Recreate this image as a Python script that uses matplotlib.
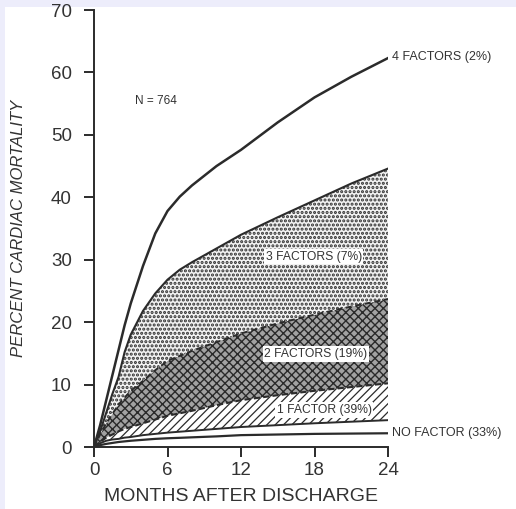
import matplotlib.pyplot as plt
from matplotlib.patches import Rectangle

# months after discharge and cumulative cardiac mortality (%)
months = [0, 0.5, 1, 1.5, 2, 2.5, 3, 4, 5, 6, 7, 8, 10, 12, 15, 18, 21, 24]
four_fac = [0, 3.5, 7.5, 11.5, 15.5, 19.5, 23, 29, 34.2, 37.8, 40.1, 41.9, 45, 47.6, 52, 56, 59.3, 62.3]
three_fac = [0, 2.5, 5.5, 8.5, 11.2, 15.2, 18, 21.8, 24.6, 26.8, 28.4, 29.6, 31.8, 34, 36.8, 39.5, 42.2, 44.6]
two_fac = [0, 2, 3.8, 5.3, 6.8, 7.9, 9, 10.6, 12.3, 13.8, 14.6, 15.4, 16.8, 18.2, 19.8, 21.2, 22.5, 23.7]
one_fac = [0, 0.8, 1.5, 2, 2.5, 2.9, 3.2, 3.8, 4.4, 5, 5.4, 5.8, 6.7, 7.5, 8.3, 9, 9.6, 10.2]
one_low = [0, 0.6, 1.0, 1.2, 1.3, 1.5, 1.6, 1.9, 2.1, 2.3, 2.45, 2.6, 2.9, 3.2, 3.5, 3.8, 4.05, 4.3]
no_fac = [0, 0.3, 0.5, 0.65, 0.8, 0.9, 1.0, 1.15, 1.3, 1.4, 1.47, 1.55, 1.7, 1.9, 2.0, 2.1, 2.15, 2.2]

xticks = [0, 6, 12, 18, 24]
yticks = [0, 10, 20, 30, 40, 50, 60, 70]

plt.rcParams['font.family'] = ['Liberation Sans', 'DejaVu Sans']

fig = plt.figure(figsize=(5.16, 5.09), dpi=100, facecolor='#ededfb')
fig.patches.append(Rectangle((5/516, 0), 1, 1 - 7/509, transform=fig.transFigure,
                             facecolor='white', edgecolor='none', zorder=-5))
ax = fig.add_axes([94/516, 62/509, 294/516, 437/509])
ax.set_facecolor('none')

ink = '#2b2b2b'
txt = '#333333'

# shaded bands
plt.rcParams['hatch.linewidth'] = 0.9
ax.fill_between(months, one_low, one_fac, facecolor='white', edgecolor=ink,
                hatch='////', linewidth=0)
plt.rcParams['hatch.linewidth'] = 1.0
ax.fill_between(months, one_fac, two_fac, facecolor='#a2a2a2', edgecolor='#2a2a2a',
                hatch='xxxx', linewidth=0)
plt.rcParams['hatch.linewidth'] = 1.5
ax.fill_between(months, two_fac, three_fac, facecolor='#f2f2f2', edgecolor='#303030',
                hatch='....', linewidth=0)

# curves
ax.plot(months, four_fac, color=ink, lw=1.8)
ax.plot(months, three_fac, color=ink, lw=1.5)
ax.plot(months, two_fac, color=ink, lw=1.4, ls=(0, (3, 2)))
ax.plot(months, one_fac, color=ink, lw=1.5, ls=(0, (3, 1.5)))
ax.plot(months, one_low, color=ink, lw=1.4)
ax.plot(months, no_fac, color=ink, lw=1.6)

lab = dict(fontsize=8.7, color=txt, va='center')
box = dict(facecolor='white', edgecolor='none', pad=1.2)
ax.text(14.0, 30.5, '3 FACTORS (7%)', bbox=box, **lab)
ax.text(13.9, 14.9, '2 FACTORS (19%)', bbox=box, **lab)
ax.text(14.9, 5.9, '1 FACTOR (39%)', bbox=box, **lab)
ax.text(24.3, 62.4, '4 FACTORS (2%)', clip_on=False, fontsize=9, color=txt, va='center')
ax.text(24.3, 2.2, 'NO FACTOR (33%)', clip_on=False, fontsize=9, color=txt, va='center')
ax.text(3.35, 55.5, 'N = 764', fontsize=8.5, color=txt, va='center')

ax.set_xlim(0, 24)
ax.set_ylim(0, 70)
ax.set_xticks(xticks)
ax.set_yticks(yticks)
for s in ['top', 'right']:
    ax.spines[s].set_visible(False)
for s in ['left', 'bottom']:
    ax.spines[s].set_linewidth(1.4)
    ax.spines[s].set_color(ink)
ax.tick_params(length=7, width=1.4, color=ink, labelsize=13.5, labelcolor=txt)
ax.tick_params(axis='y', pad=9)
ax.tick_params(axis='x', pad=4)

ax.set_xlabel('MONTHS AFTER DISCHARGE', fontsize=14, color=txt, labelpad=6)
ax.set_ylabel('PERCENT CARDIAC MORTALITY', fontsize=12, style='italic',
              color=txt, labelpad=18)

fig.savefig('out.png', dpi=100, facecolor=fig.get_facecolor())
